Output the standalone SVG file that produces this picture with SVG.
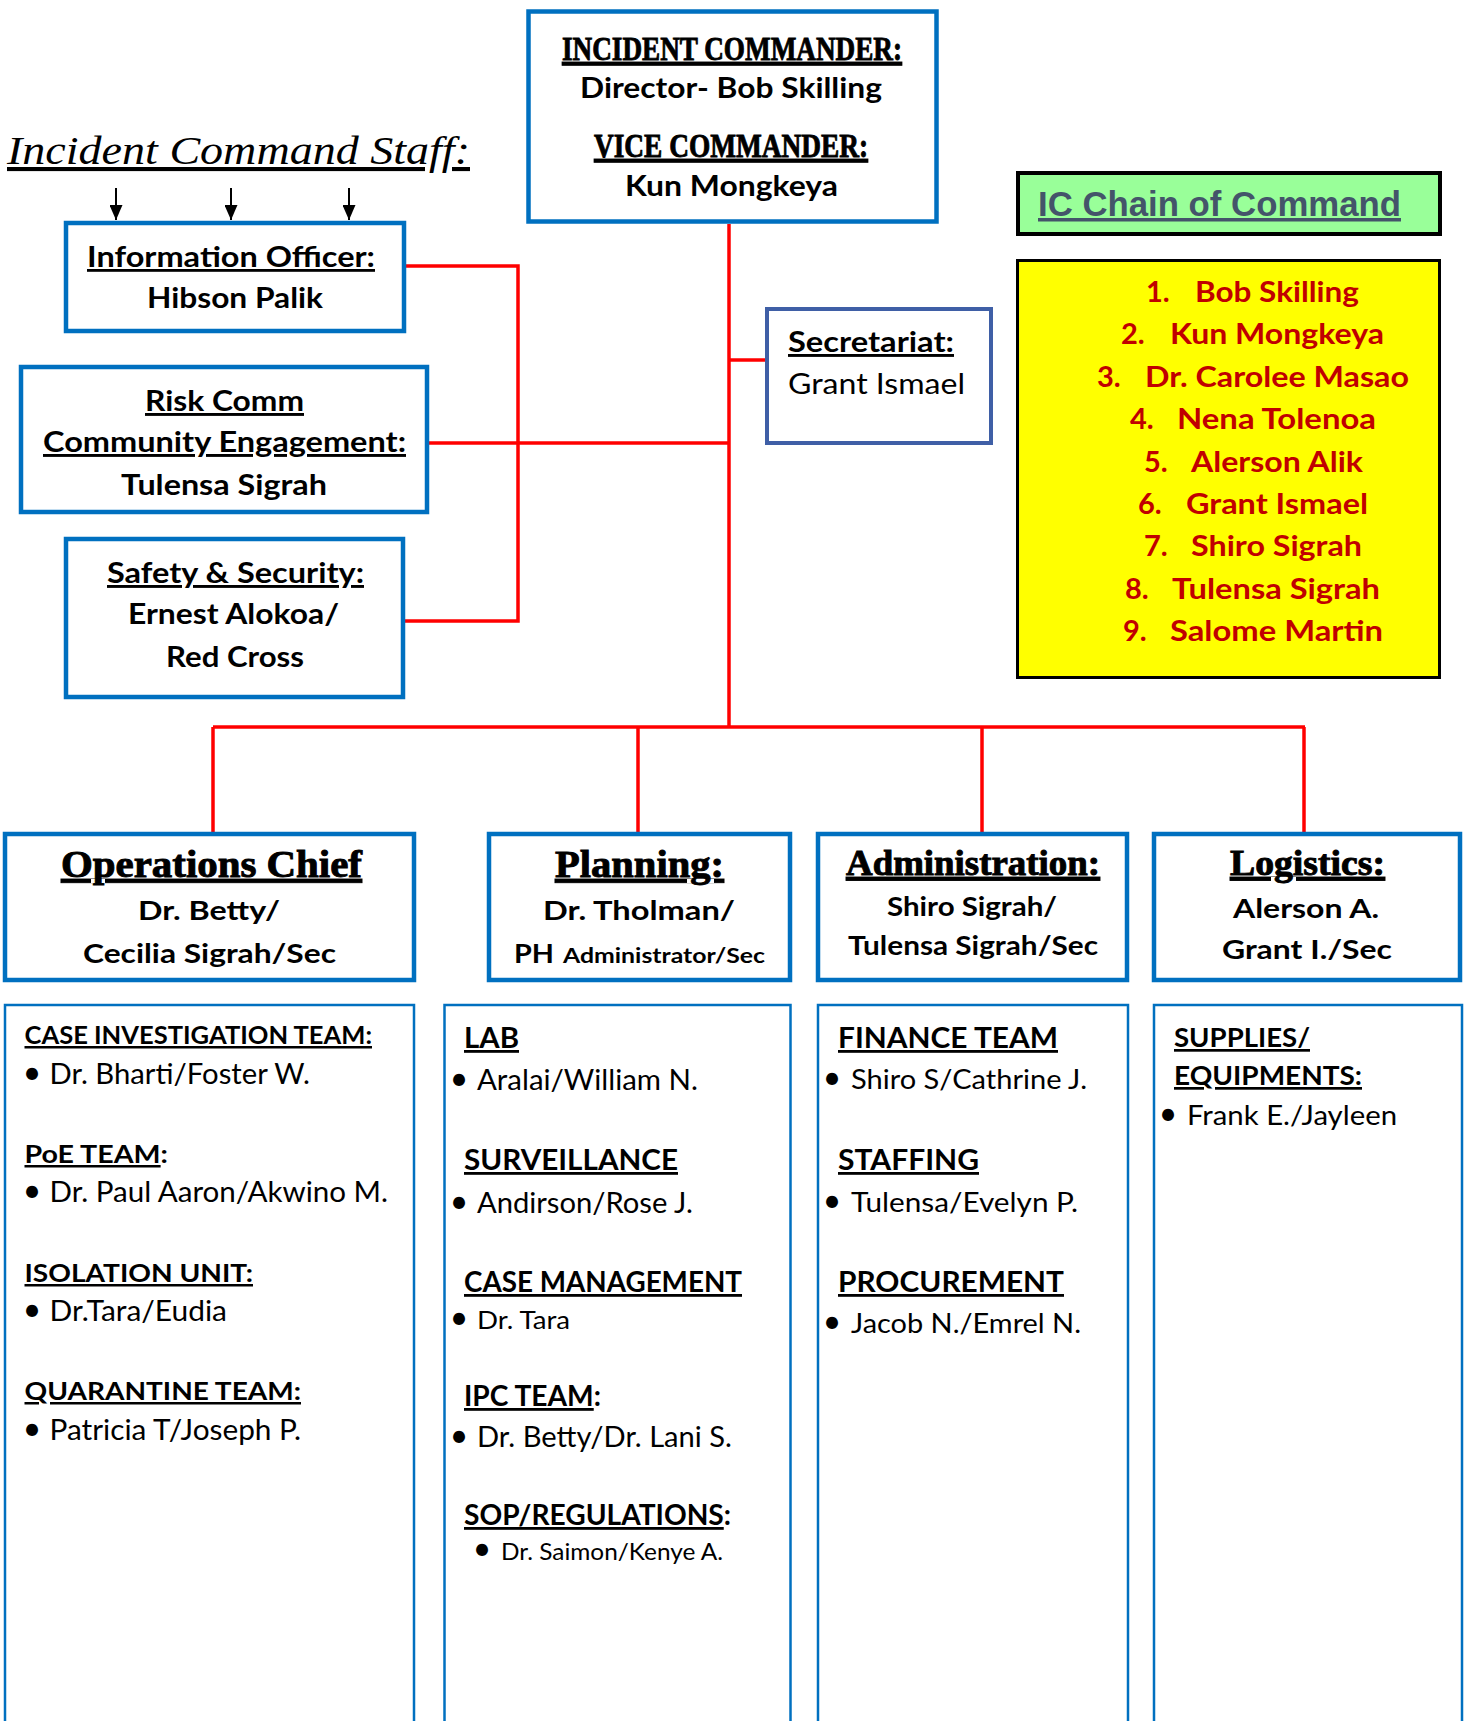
<svg xmlns="http://www.w3.org/2000/svg" width="1465" height="1721" viewBox="0 0 1465 1721">
<style>
.box{fill:#fff;stroke:#0070C0;stroke-width:4.5}
.dbox{fill:none;stroke:#0070C0;stroke-width:2.5}
.conn{stroke:#FF0000;stroke-width:3.5;fill:none}
.arr{stroke:#000;stroke-width:2;fill:none}
.b{font-family:Lato,"Liberation Sans",sans-serif;font-weight:700;fill:#000}
.r{font-family:Lato,"Liberation Sans",sans-serif;font-weight:400;fill:#000}
.s{font-family:"Liberation Serif",serif;font-weight:700;fill:#000;stroke:#000;stroke-width:0.9}
.u{text-decoration:underline}
.red{fill:#C00000}
.f29{font-size:29px}
.f28{font-size:28px}
.f27{font-size:27px}
.f25{font-size:25px}
.bul{font-family:Lato,"Liberation Sans",sans-serif;font-size:32px;text-anchor:middle;fill:#000}
</style>
<defs>
<marker id="ah" viewBox="0 0 10 10" refX="10" refY="5" markerWidth="15" markerHeight="13" markerUnits="userSpaceOnUse" orient="auto" preserveAspectRatio="none">
<path d="M0,0 L10,5 L0,10 Z" fill="#000"/>
</marker>
</defs>

<g id="connectors">
<path class="conn" d="M729,224 V727"/>
<path class="conn" d="M213,727 H1305"/>
<path class="conn" d="M213,727 V832"/>
<path class="conn" d="M638,727 V832"/>
<path class="conn" d="M982,727 V832"/>
<path class="conn" d="M1304,727 V832"/>
<path class="conn" d="M729,360 H765"/>
<path class="conn" d="M429,443 H729"/>
<path class="conn" d="M406,266 H518 V621 H400"/>
<path class="arr" d="M116,188 V220" marker-end="url(#ah)"/>
<path class="arr" d="M231,188 V220" marker-end="url(#ah)"/>
<path class="arr" d="M349,188 V220" marker-end="url(#ah)"/>
</g>

<g id="staff-title">
<text x="7" y="164" font-family="'Liberation Serif',serif" font-style="italic" font-size="41" class="u" textLength="463" lengthAdjust="spacingAndGlyphs">Incident Command Staff:</text>
</g>

<g id="incident-commander">
<rect class="box" x="528.5" y="11.5" width="408" height="210" stroke-width="5"/>
<text class="s u" x="562" y="60" font-size="33" textLength="340" lengthAdjust="spacingAndGlyphs">INCIDENT COMMANDER:</text>
<text class="b f29" x="580" y="98" textLength="302" lengthAdjust="spacingAndGlyphs">Director- Bob Skilling</text>
<text class="s u" x="594" y="157" font-size="33" textLength="274" lengthAdjust="spacingAndGlyphs">VICE COMMANDER:</text>
<text class="b f29" x="625" y="196" textLength="213" lengthAdjust="spacingAndGlyphs">Kun Mongkeya</text>
</g>

<g id="information-officer">
<rect class="box" x="66" y="223" width="338" height="108"/>
<text class="b f28 u" x="87" y="267" textLength="288" lengthAdjust="spacingAndGlyphs">Information Officer:</text>
<text class="b f28" x="147" y="308" textLength="176" lengthAdjust="spacingAndGlyphs">Hibson Palik</text>
</g>

<g id="risk-comm">
<rect class="box" x="21" y="367" width="406" height="145"/>
<text class="b f29 u" x="145" y="411" textLength="159" lengthAdjust="spacingAndGlyphs">Risk Comm</text>
<text class="b f29 u" x="43" y="452" textLength="363" lengthAdjust="spacingAndGlyphs">Community Engagement:</text>
<text class="b f29" x="121" y="495" textLength="206" lengthAdjust="spacingAndGlyphs">Tulensa Sigrah</text>
</g>

<g id="safety-security">
<rect class="box" x="66" y="539" width="337" height="158"/>
<text class="b f29 u" x="107" y="583" textLength="257" lengthAdjust="spacingAndGlyphs">Safety &amp; Security:</text>
<text class="b f29" x="128" y="624" textLength="211" lengthAdjust="spacingAndGlyphs">Ernest Alokoa/</text>
<text class="b f29" x="166" y="667" textLength="138" lengthAdjust="spacingAndGlyphs">Red Cross</text>
</g>

<g id="secretariat">
<rect x="767" y="309" width="224" height="134" fill="#fff" stroke="#3F5FA6" stroke-width="4"/>
<text class="b f29 u" x="788" y="352" textLength="166" lengthAdjust="spacingAndGlyphs">Secretariat:</text>
<text class="r f29" x="788" y="394" textLength="177" lengthAdjust="spacingAndGlyphs">Grant Ismael</text>
</g>

<g id="chain-title">
<rect x="1018" y="173" width="422" height="61" fill="#99FF99" stroke="#000" stroke-width="4"/>
<text x="1038" y="216" font-family="'Liberation Sans',Arial,sans-serif" font-weight="700" font-size="35" fill="#44546A" class="u" textLength="363" lengthAdjust="spacingAndGlyphs">IC Chain of Command</text>
</g>

<g id="chain-list">
<rect x="1017.5" y="260.5" width="422" height="417" fill="#FFFF00" stroke="#000" stroke-width="3"/>
<text class="b f29 red" x="1146" y="302">1.</text><text class="b f29 red" x="1195" y="302" textLength="164" lengthAdjust="spacingAndGlyphs">Bob Skilling</text>
<text class="b f29 red" x="1121" y="344">2.</text><text class="b f29 red" x="1170" y="344" textLength="214" lengthAdjust="spacingAndGlyphs">Kun Mongkeya</text>
<text class="b f29 red" x="1097" y="387">3.</text><text class="b f29 red" x="1145" y="387" textLength="264" lengthAdjust="spacingAndGlyphs">Dr. Carolee Masao</text>
<text class="b f29 red" x="1130" y="429">4.</text><text class="b f29 red" x="1177" y="429" textLength="199" lengthAdjust="spacingAndGlyphs">Nena Tolenoa</text>
<text class="b f29 red" x="1144" y="472">5.</text><text class="b f29 red" x="1191" y="472" textLength="172" lengthAdjust="spacingAndGlyphs">Alerson Alik</text>
<text class="b f29 red" x="1138" y="514">6.</text><text class="b f29 red" x="1186" y="514" textLength="182" lengthAdjust="spacingAndGlyphs">Grant Ismael</text>
<text class="b f29 red" x="1144" y="556">7.</text><text class="b f29 red" x="1191" y="556" textLength="171" lengthAdjust="spacingAndGlyphs">Shiro Sigrah</text>
<text class="b f29 red" x="1125" y="599">8.</text><text class="b f29 red" x="1172" y="599" textLength="208" lengthAdjust="spacingAndGlyphs">Tulensa Sigrah</text>
<text class="b f29 red" x="1123" y="641">9.</text><text class="b f29 red" x="1170" y="641" textLength="213" lengthAdjust="spacingAndGlyphs">Salome Martin</text>
</g>

<g id="operations">
<rect class="box" x="5" y="834" width="409" height="146"/>
<text class="s u" x="61" y="877" font-size="37" textLength="301" lengthAdjust="spacingAndGlyphs">Operations Chief</text>
<text class="b f27" x="138" y="920" textLength="142" lengthAdjust="spacingAndGlyphs">Dr. Betty/</text>
<text class="b f27" x="83" y="963" textLength="253" lengthAdjust="spacingAndGlyphs">Cecilia Sigrah/Sec</text>
</g>

<g id="planning">
<rect class="box" x="489" y="834" width="301" height="146"/>
<text class="s u" x="555" y="877" font-size="37" textLength="169" lengthAdjust="spacingAndGlyphs">Planning:</text>
<text class="b f27" x="543" y="920" textLength="192" lengthAdjust="spacingAndGlyphs">Dr. Tholman/</text>
<text class="b f27" x="514" y="963" textLength="40" lengthAdjust="spacingAndGlyphs">PH</text>
<text class="b" x="563" y="963" font-size="21" textLength="202" lengthAdjust="spacingAndGlyphs">Administrator/Sec</text>
</g>

<g id="administration">
<rect class="box" x="818" y="834" width="309" height="146"/>
<text class="s u" x="846" y="875" font-size="35" textLength="254" lengthAdjust="spacingAndGlyphs">Administration:</text>
<text class="b f27" x="887" y="916" textLength="170" lengthAdjust="spacingAndGlyphs">Shiro Sigrah/</text>
<text class="b f27" x="848" y="955" textLength="250" lengthAdjust="spacingAndGlyphs">Tulensa Sigrah/Sec</text>
</g>

<g id="logistics">
<rect class="box" x="1154" y="834" width="306" height="146"/>
<text class="s u" x="1230" y="875" font-size="35" textLength="155" lengthAdjust="spacingAndGlyphs">Logistics:</text>
<text class="b f27" x="1233" y="918" textLength="146" lengthAdjust="spacingAndGlyphs">Alerson A.</text>
<text class="b f27" x="1222" y="959" textLength="170" lengthAdjust="spacingAndGlyphs">Grant I./Sec</text>
</g>

<g id="operations-teams">
<rect class="dbox" x="5" y="1005" width="409" height="740"/>
<text class="b f25 u" x="24.5" y="1044" textLength="347.5" lengthAdjust="spacingAndGlyphs">CASE INVESTIGATION TEAM:</text>
<text class="bul" x="32" y="1084">•</text>
<text class="r f28" x="49.5" y="1084" textLength="260.5" lengthAdjust="spacingAndGlyphs">Dr. Bharti/Foster W.</text>
<text class="b f25" x="24.5" y="1163" textLength="143.5" lengthAdjust="spacingAndGlyphs"><tspan class="u">PoE TEAM</tspan>:</text>
<text class="bul" x="32" y="1202">•</text>
<text class="r f28" x="49.5" y="1202" textLength="338.5" lengthAdjust="spacingAndGlyphs">Dr. Paul Aaron/Akwino M.</text>
<text class="b f25 u" x="24.5" y="1282" textLength="228.5" lengthAdjust="spacingAndGlyphs">ISOLATION UNIT:</text>
<text class="bul" x="32" y="1321">•</text>
<text class="r f28" x="49.5" y="1321" textLength="177.5" lengthAdjust="spacingAndGlyphs">Dr.Tara/Eudia</text>
<text class="b f25 u" x="24.5" y="1400" textLength="276.5" lengthAdjust="spacingAndGlyphs">QUARANTINE TEAM:</text>
<text class="bul" x="32" y="1440">•</text>
<text class="r f28" x="49.5" y="1440" textLength="251.5" lengthAdjust="spacingAndGlyphs">Patricia T/Joseph P.</text>
</g>

<g id="planning-teams">
<rect class="dbox" x="444.5" y="1005" width="346" height="740"/>
<text class="b f28 u" x="464" y="1048" textLength="55" lengthAdjust="spacingAndGlyphs">LAB</text>
<text class="bul" x="459" y="1090">•</text>
<text class="r f28" x="477" y="1090" textLength="221" lengthAdjust="spacingAndGlyphs">Aralai/William N.</text>
<text class="b f28 u" x="464" y="1170" textLength="214" lengthAdjust="spacingAndGlyphs">SURVEILLANCE</text>
<text class="bul" x="459" y="1213">•</text>
<text class="r f28" x="477" y="1213" textLength="216" lengthAdjust="spacingAndGlyphs">Andirson/Rose J.</text>
<text class="b f28 u" x="464" y="1292" textLength="278" lengthAdjust="spacingAndGlyphs">CASE MANAGEMENT</text>
<text class="bul" x="459" y="1329" font-size="29">•</text>
<text class="r f25" x="477" y="1329" textLength="93" lengthAdjust="spacingAndGlyphs">Dr. Tara</text>
<text class="b f28" x="464" y="1406" textLength="137" lengthAdjust="spacingAndGlyphs"><tspan class="u">IPC TEAM</tspan>:</text>
<text class="bul" x="459" y="1447">•</text>
<text class="r f28" x="477" y="1447" textLength="255" lengthAdjust="spacingAndGlyphs">Dr. Betty/Dr. Lani S.</text>
<text class="b f28" x="464" y="1525" textLength="267" lengthAdjust="spacingAndGlyphs"><tspan class="u">SOP/REGULATIONS</tspan>:</text>
<text class="bul" x="482" y="1560" font-size="28">•</text>
<text class="r" x="501" y="1560" font-size="24" textLength="222" lengthAdjust="spacingAndGlyphs">Dr. Saimon/Kenye A.</text>
</g>

<g id="administration-teams">
<rect class="dbox" x="818" y="1005" width="310" height="740"/>
<text class="b f28 u" x="838" y="1048" textLength="220" lengthAdjust="spacingAndGlyphs">FINANCE TEAM</text>
<text class="bul" x="832" y="1089">•</text>
<text class="r f27" x="851" y="1089" textLength="236" lengthAdjust="spacingAndGlyphs">Shiro S/Cathrine J.</text>
<text class="b f28 u" x="838" y="1170" textLength="141" lengthAdjust="spacingAndGlyphs">STAFFING</text>
<text class="bul" x="832" y="1212">•</text>
<text class="r f27" x="851" y="1212" textLength="227" lengthAdjust="spacingAndGlyphs">Tulensa/Evelyn P.</text>
<text class="b f28 u" x="838" y="1292" textLength="226" lengthAdjust="spacingAndGlyphs">PROCUREMENT</text>
<text class="bul" x="832" y="1333">•</text>
<text class="r f27" x="851" y="1333" textLength="230" lengthAdjust="spacingAndGlyphs">Jacob N./Emrel N.</text>
</g>

<g id="logistics-teams">
<rect class="dbox" x="1154" y="1005" width="308" height="740"/>
<text class="b f27 u" x="1174" y="1047" textLength="136" lengthAdjust="spacingAndGlyphs">SUPPLIES/</text>
<text class="b f27 u" x="1174" y="1085" textLength="188" lengthAdjust="spacingAndGlyphs">EQUIPMENTS:</text>
<text class="bul" x="1168" y="1125">•</text>
<text class="r f27" x="1187" y="1125" textLength="210" lengthAdjust="spacingAndGlyphs">Frank E./Jayleen</text>
</g>
</svg>
